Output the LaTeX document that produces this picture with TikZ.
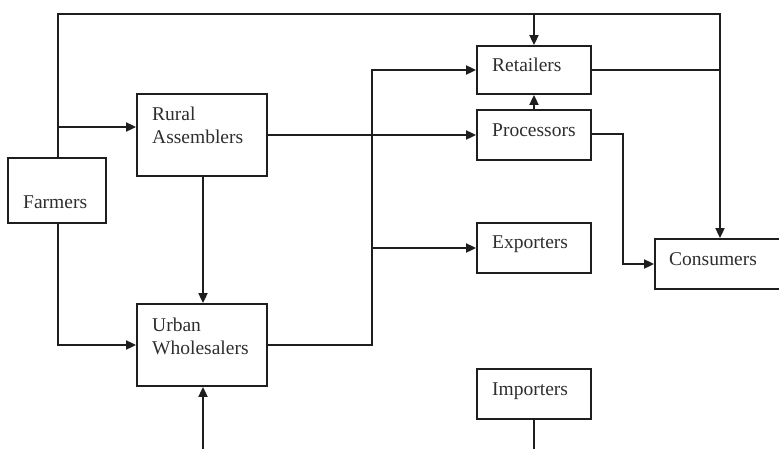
\documentclass[tikz,border=0pt]{standalone}
\usepackage{fontspec}
\setmainfont{Liberation Serif}
\usetikzlibrary{arrows.meta}
\definecolor{ink}{HTML}{1E1E1E}
\definecolor{txt}{HTML}{2E2E2E}
\tikzset{
  box/.style={draw=ink, line width=1.8pt, rectangle, inner sep=0pt},
  lbl/.style={font=\fontsize{19.5}{23}\selectfont, text=txt, inner sep=0pt, anchor=west, align=left},
  conn/.style={draw=ink, line width=1.8pt},
  arr/.style={conn, -{Triangle[length=10pt,width=9pt]}},
}
\begin{document}
\begin{tikzpicture}[x=1pt,y=-1pt]
\useasboundingbox (0,0) rectangle (779,448);
\clip (0,0) rectangle (779,448);
% boxes
\node[box, minimum width=98pt, minimum height=65pt] (farm) at (57,190.5) {};
\node[box, minimum width=130pt, minimum height=82pt] (rural) at (202,135) {};
\node[box, minimum width=130pt, minimum height=82pt] (urban) at (202,345) {};
\node[box, minimum width=114pt, minimum height=48pt] (ret) at (534,70) {};
\node[box, minimum width=114pt, minimum height=50pt] (proc) at (534,135) {};
\node[box, minimum width=114pt, minimum height=50pt] (exp) at (534,248) {};
\node[box, minimum width=114pt, minimum height=50pt] (imp) at (534,394) {};
\node[box, minimum width=200pt, minimum height=50pt] (cons) at (755,264) {};
% labels
\node[lbl] (farm-t) at (23,202) {Farmers};
\node[lbl] (rural-t) at (152,125.5) {Rural\\Assemblers};
\node[lbl] (urban-t) at (152,336) {Urban\\Wholesalers};
\node[lbl] (ret-t) at (492,65) {Retailers};
\node[lbl] (proc-t) at (492,130) {Processors};
\node[lbl] (exp-t) at (492,244) {Exporters};
\node[lbl] (imp-t) at (492,391) {Importers};
\node[lbl] (cons-t) at (669,259) {Consumers};
% junction coordinates
\coordinate (tl) at (58,14);
\coordinate (tr) at (720,14);
\coordinate (tm) at (534,14);
\coordinate (fr) at (58,127);
\coordinate (rj) at (720,70);
\coordinate (vb) at (372,345);
\coordinate (vt) at (372,70);
\coordinate (ve) at (372,248);
\coordinate (pc) at (623,134);
\coordinate (bot1) at (203,455);
\coordinate (bot2) at (534,455);
% connectors
\draw[arr] (farm.north -| tl) -- (tl) -- (tr) -- (cons.north -| tr);
\draw[arr] (tm) -- (ret.north);
\draw[arr] (fr) -- (fr -| rural.west);
\draw[arr] (farm.south -| tl) |- (urban.west);
\draw[arr] (rural.south -| bot1) -- (urban.north -| bot1);
\draw[arr] (rural.east |- proc.west) -- (proc.west);
\draw[arr] (urban.east) -- (vb) -- (vt) -- (ret.west);
\draw[arr] (ve) -- (exp.west |- ve);
\draw[arr] (proc.north) -- (ret.south);
\draw[conn] (ret.east) -- (rj);
\draw[arr] (proc.east |- pc) -- (pc) |- (cons.west);
\draw[conn] (imp.south) -- (bot2);
\draw[arr] (bot1) -- (urban.south -| bot1);
\end{tikzpicture}
\end{document}
